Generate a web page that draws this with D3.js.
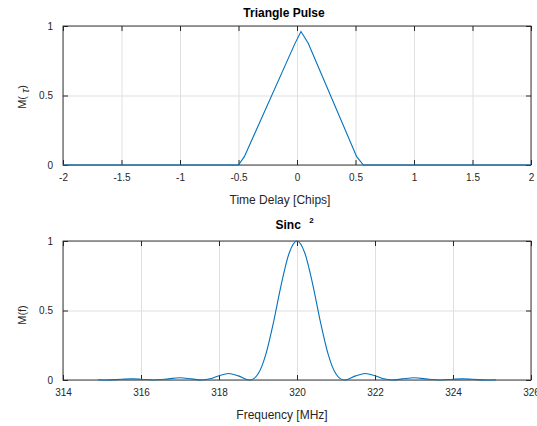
<!DOCTYPE html>
<html>
<head>
<meta charset="utf-8">
<script src="https://cdn.jsdelivr.net/npm/d3@7"></script>
<style>
  body { margin: 0; background: #fff; }
  text { font-family: "Liberation Sans", Arial, sans-serif; }
</style>
</head>
<body>
<div id="chart"></div>
<script>
// top panel: triangle pulse (time delay in chips)
const delay = [-2, -0.5, -0.45, -0.017, 0.034, 0.096, 0.51, 0.567, 2];
const pulse = [0, 0, 0.06, 0.875, 0.96, 0.876, 0.06, 0, 0];
const delayTicks = [-2, -1.5, -1, -0.5, 0, 0.5, 1, 1.5, 2];

// bottom panel: sinc^2 spectrum (MHz)
const freq = [314.9, 315.12, 315.5, 315.77, 316.0, 316.34, 316.6, 317.0, 317.3, 317.56,
  317.8, 318.0, 318.25, 318.5, 318.78, 318.9, 319.0, 319.1, 319.2, 319.4, 319.6, 319.8, 320,
  320.2, 320.4, 320.6, 320.8, 320.9, 321.0, 321.1, 321.22, 321.5, 321.75, 322.0, 322.2,
  322.44, 322.7, 323.0, 323.4, 323.66, 324.0, 324.23, 324.5, 324.88, 325.1];
const spectrum = [0.002, 0, 0.005, 0.008, 0.0056, 0, 0.005, 0.0165, 0.008, 0,
  0.0105, 0.031, 0.047, 0.0295, 0, 0.0115, 0.043, 0.1, 0.184, 0.419, 0.692, 0.914, 1,
  0.914, 0.692, 0.419, 0.184, 0.1, 0.043, 0.0115, 0, 0.0295, 0.047, 0.031, 0.0105,
  0, 0.008, 0.0165, 0.005, 0, 0.0056, 0.008, 0.005, 0, 0.002];
const freqTicks = [314, 316, 318, 320, 322, 324, 326];
const magTicks = [0, 0.5, 1];

const width = 537;
const height = 426;
const svg = d3.select('#chart').append('svg')
  .attr('width', width)
  .attr('height', height);

const left = 63, right = 531;
const lineColor = '#0072bd';
const axisColor = '#262626';

function drawPanel(opts) {
  const x = d3.scaleLinear().domain(opts.xDomain).range([left, right]);
  const y = d3.scaleLinear().domain([0, 1]).range([opts.bottom, opts.top]);
  const g = svg.append('g');
  const h = opts.bottom - opts.top;

  // grid
  g.append('g')
    .attr('transform', `translate(0,${opts.bottom})`)
    .call(d3.axisBottom(x).tickValues(opts.xTicks).tickSize(-h).tickFormat(''))
    .call(s => s.select('.domain').remove())
    .selectAll('line').attr('stroke', '#dfdfdf');
  g.append('g')
    .attr('transform', `translate(${left},0)`)
    .call(d3.axisLeft(y).tickValues(magTicks).tickSize(-(right - left)).tickFormat(''))
    .call(s => s.select('.domain').remove())
    .selectAll('line').attr('stroke', '#dfdfdf');

  // box
  g.append('rect')
    .attr('x', left).attr('y', opts.top)
    .attr('width', right - left).attr('height', h)
    .attr('fill', 'none').attr('stroke', axisColor).attr('stroke-width', 0.9);

  // ticks inward, labels outside
  const fmt = d => String(d);
  const xAxis = g.append('g')
    .attr('transform', `translate(0,${opts.bottom})`)
    .call(d3.axisBottom(x).tickValues(opts.xTicks).tickSize(-5).tickPadding(9).tickFormat(fmt));
  g.append('g')
    .attr('transform', `translate(0,${opts.top})`)
    .call(d3.axisTop(x).tickValues(opts.xTicks).tickSize(-5).tickFormat(''));
  const yAxis = g.append('g')
    .attr('transform', `translate(${left},0)`)
    .call(d3.axisLeft(y).tickValues(magTicks).tickSize(-5).tickPadding(10).tickFormat(fmt));
  g.append('g')
    .attr('transform', `translate(${right},0)`)
    .call(d3.axisRight(y).tickValues(magTicks).tickSize(-5).tickFormat(''));

  g.selectAll('.domain').remove();
  g.selectAll('.tick line').filter(function () { return d3.select(this).attr('stroke') !== '#dfdfdf'; })
    .attr('stroke', axisColor);
  [xAxis, yAxis].forEach(a => a.selectAll('text')
    .attr('fill', axisColor)
    .style('font-size', '10px')
    .style('font-family', '"Liberation Sans", Arial, sans-serif'));

  // data line
  const line = d3.line()
    .x((d, i) => x(opts.xs[i]))
    .y(d => y(d))
    .curve(opts.curve);
  g.append('path')
    .datum(opts.ys)
    .attr('d', line)
    .attr('fill', 'none')
    .attr('stroke', lineColor)
    .attr('stroke-width', 1.1);

  // x label
  g.append('text')
    .attr('x', opts.xLabelX)
    .attr('y', opts.bottom + 39)
    .attr('text-anchor', 'middle')
    .attr('fill', axisColor)
    .style('font-size', '12px')
    .text(opts.xLabel);

  return g;
}

const top1 = drawPanel({
  top: 26, bottom: 165,
  xDomain: [-2, 2], xTicks: delayTicks,
  xs: delay, ys: pulse, curve: d3.curveLinear,
  xLabel: 'Time Delay [Chips]', xLabelX: 280
});

const bottom1 = drawPanel({
  top: 241, bottom: 380,
  xDomain: [314, 326], xTicks: freqTicks,
  xs: freq, ys: spectrum, curve: d3.curveMonotoneX,
  xLabel: 'Frequency [MHz]', xLabelX: 282
});

// titles
svg.append('text')
  .attr('x', 284).attr('y', 16.5)
  .attr('text-anchor', 'middle')
  .style('font-size', '12px').style('font-weight', 'bold')
  .text('Triangle Pulse');

const sincTitle = svg.append('text')
  .attr('x', 275.5).attr('y', 229)
  .style('font-size', '12px').style('font-weight', 'bold');
sincTitle.append('tspan').text('Sinc');
sincTitle.append('tspan')
  .attr('dx', 8.5).attr('dy', -6.5)
  .style('font-size', '8px')
  .text('2');

// y labels
const yl1 = svg.append('text')
  .attr('transform', 'translate(26,97) rotate(-90)')
  .attr('text-anchor', 'middle')
  .attr('fill', axisColor)
  .style('font-size', '11px');
yl1.append('tspan').text('M( ');
yl1.append('tspan').attr('dy', 3).style('font-style', 'italic').text('τ');
yl1.append('tspan').attr('dy', -3).text(')');

svg.append('text')
  .attr('transform', 'translate(26,315) rotate(-90)')
  .attr('text-anchor', 'middle')
  .attr('fill', axisColor)
  .style('font-size', '11px')
  .text('M(f)');
</script>
</body>
</html>
